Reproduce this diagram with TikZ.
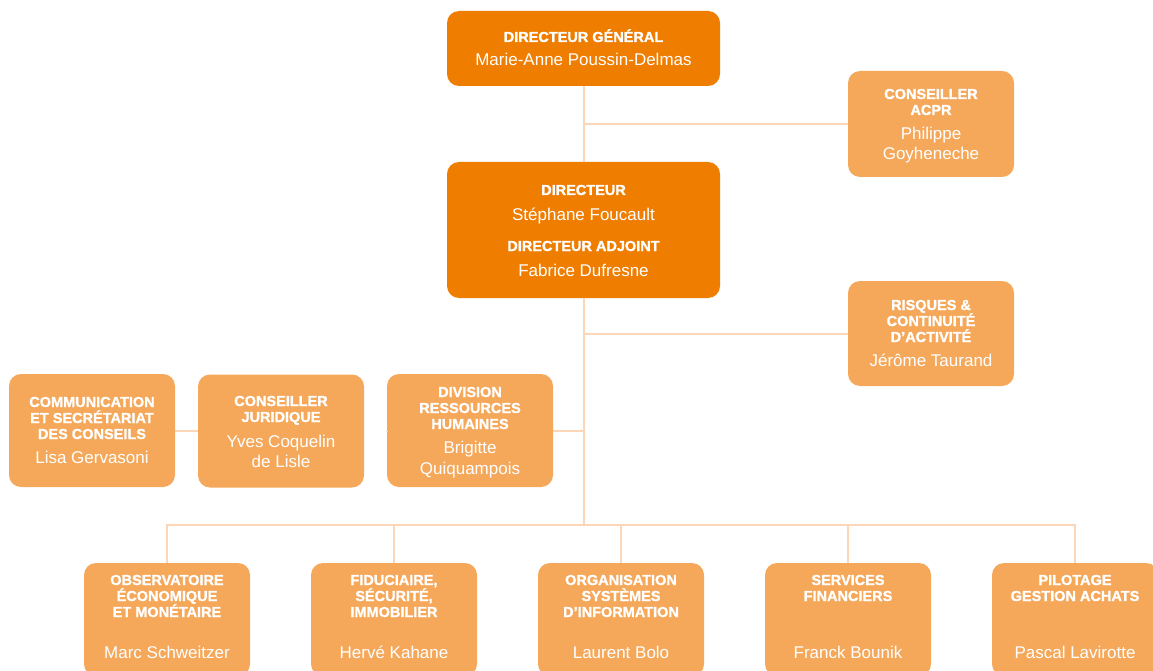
\documentclass[tikz,border=0pt]{standalone}
\usepackage{fontspec}
\setmainfont{Liberation Sans}
\newfontfamily\heavyfont{Liberation Sans}[BoldFeatures={FakeBold=1.3}]
\definecolor{darkor}{RGB}{239,125,0}
\definecolor{lightor}{RGB}{245,168,90}
\definecolor{connc}{RGB}{251,214,184}
\tikzset{
  darkbox/.style={fill=darkor, rounded corners=12pt, inner sep=0pt, draw=none},
  lightbox/.style={fill=lightor, rounded corners=12pt, inner sep=0pt, draw=none},
  bwide/.style={minimum width=273pt},
  bnarrow/.style={minimum width=166pt},
  ttl/.style={anchor=base, inner sep=0pt, text=white, font=\heavyfont\bfseries\fontsize{14.5}{16}\selectfont},
  nm/.style={anchor=base, inner sep=0pt, text=white, font=\fontsize{17}{20}\selectfont},
  connector/.style={draw=connc, line width=2pt}
}
\newcommand\TTnode[3]{\node[ttl] (#1) at (#2) {#3};}
\newcommand\NMnode[3]{\node[nm] (#1) at (#2) {#3};}
\begin{document}
\begin{tikzpicture}[x=1pt,y=-1pt]
\clip (0,0) rectangle (1153,671);
\fill[white] (0,0) rectangle (1153,671);
% boxes
\node[darkbox, bwide, minimum height=75pt] (dg) at (583.5,48.5) {};
\node[lightbox, bnarrow, minimum height=106pt] (acpr) at (931,124) {};
\node[darkbox, bwide, minimum height=136pt] (dir) at (583.5,230) {};
\node[lightbox, bnarrow, minimum height=105pt] (risk) at (931,333.5) {};
\node[lightbox, bnarrow, minimum height=113pt] (com) at (92,430.5) {};
\node[lightbox, bnarrow, minimum height=113pt] (jur) at (281,431) {};
\node[lightbox, bnarrow, minimum height=113pt] (rh) at (470,430.5) {};
\node[lightbox, bnarrow, minimum height=113pt] (b1) at (167,619.5) {};
\node[lightbox, bnarrow, minimum height=113pt] (b2) at (394,619.5) {};
\node[lightbox, bnarrow, minimum height=113pt] (b3) at (621,619.5) {};
\node[lightbox, bnarrow, minimum height=113pt] (b4) at (848,619.5) {};
\node[lightbox, bnarrow, minimum height=113pt] (b5) at (1075,619.5) {};
% connectors
\coordinate (hub) at (583.5,525);
\coordinate (jA) at (583.5,124);
\coordinate (jR) at (583.5,333.5);
\coordinate (jH) at (583.5,430.5);
\draw[connector] (dg.south) -- (dir.north);
\draw[connector] (dir.south) -- (hub);
\draw[connector] (jA) -- (acpr.west);
\draw[connector] (jR) -- (risk.west);
\draw[connector] (jH) -- (rh.east);
\draw[connector] (rh.west) -- (jur.west -| rh.west);
\draw[connector] (jur.west) -- (jur.west -| com.east);
\draw[connector] (b1.north) |- (hub) -| (b5.north);
\draw[connector] (b2.north) -- (b2.north |- hub);
\draw[connector] (b3.north) -- (b3.north |- hub);
\draw[connector] (b4.north) -- (b4.north |- hub);
% texts
\TTnode{dgT}{583.5,42}{DIRECTEUR GÉNÉRAL}
\NMnode{dgN}{583.5,66}{Marie-Anne Poussin-Delmas}
\TTnode{acprT1}{931,99}{CONSEILLER}
\TTnode{acprT2}{931,115}{ACPR}
\NMnode{acprN1}{931,139.5}{Philippe}
\NMnode{acprN2}{931,160}{Goyheneche}
\TTnode{dirT1}{583.5,195}{DIRECTEUR}
\NMnode{dirN1}{583.5,220}{Stéphane Foucault}
\TTnode{dirT2}{583.5,251}{DIRECTEUR ADJOINT}
\NMnode{dirN2}{583.5,276}{Fabrice Dufresne}
\TTnode{riskT1}{931,310}{RISQUES \&}
\TTnode{riskT2}{931,326}{CONTINUITÉ}
\TTnode{riskT3}{931,342}{D’ACTIVITÉ}
\NMnode{riskN}{931,366}{Jérôme Taurand}
\TTnode{comT1}{92,407}{COMMUNICATION}
\TTnode{comT2}{92,423}{ET SECRÉTARIAT}
\TTnode{comT3}{92,439}{DES CONSEILS}
\NMnode{comN}{92,463.5}{Lisa Gervasoni}
\TTnode{jurT1}{281,406}{CONSEILLER}
\TTnode{jurT2}{281,422}{JURIDIQUE}
\NMnode{jurN1}{281,447}{Yves Coquelin}
\NMnode{jurN2}{281,467}{de Lisle}
\TTnode{rhT1}{470,397}{DIVISION}
\TTnode{rhT2}{470,413}{RESSOURCES}
\TTnode{rhT3}{470,429}{HUMAINES}
\NMnode{rhN1}{470,453.5}{Brigitte}
\NMnode{rhN2}{470,474}{Quiquampois}
\TTnode{b1T1}{167,585}{OBSERVATOIRE}
\TTnode{b1T2}{167,601}{ÉCONOMIQUE}
\TTnode{b1T3}{167,617}{ET MONÉTAIRE}
\NMnode{b1N}{167,658}{Marc Schweitzer}
\TTnode{b2T1}{394,585}{FIDUCIAIRE,}
\TTnode{b2T2}{394,601}{SÉCURITÉ,}
\TTnode{b2T3}{394,617}{IMMOBILIER}
\NMnode{b2N}{394,658}{Hervé Kahane}
\TTnode{b3T1}{621,585}{ORGANISATION}
\TTnode{b3T2}{621,601}{SYSTÈMES}
\TTnode{b3T3}{621,617}{D’INFORMATION}
\NMnode{b3N}{621,658}{Laurent Bolo}
\TTnode{b4T1}{848,585}{SERVICES}
\TTnode{b4T2}{848,601}{FINANCIERS}
\NMnode{b4N}{848,658}{Franck Bounik}
\TTnode{b5T1}{1075,585}{PILOTAGE}
\TTnode{b5T2}{1075,601}{GESTION ACHATS}
\NMnode{b5N}{1075,658}{Pascal Lavirotte}
\end{tikzpicture}
\end{document}
